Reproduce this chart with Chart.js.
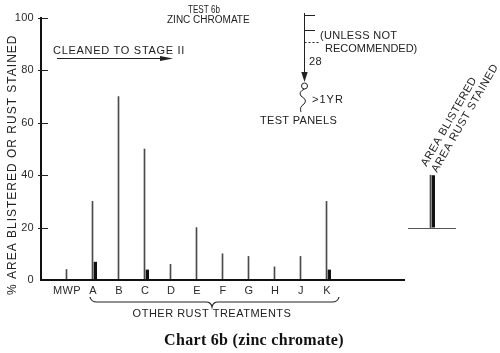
<!DOCTYPE html>
<html><head><meta charset="utf-8">
<script src="https://cdn.jsdelivr.net/npm/chart.js@4/dist/chart.umd.min.js"></script>
<style>html,body{margin:0;padding:0;background:#fff}#wrap{width:500px;height:353px;position:relative}canvas{display:block}</style>
</head><body><div id="wrap"><canvas id="c" width="500" height="353"></canvas></div>
<script>
// ---- data ----
const categories = ['MWP', 'A', 'B', 'C', 'D', 'E', 'F', 'G', 'H', 'J', 'K'];
const areaBlistered = [4, 30, 70, 50, 6, 20, 10, 9, 5, 9, 30];
const areaRustStained = [null, 7, null, 4, null, null, null, null, null, null, 4];
const yTicks = [0, 20, 40, 60, 80, 100];
const legendKeyRange = [20, 40];

// axis slots: one empty slot before, empty slots after (axis runs on, then the key)
const axisLabels = ['', ...categories, '', '', '', '', ''];
const axisEndIndex = categories.length + 3;   // where the drawn baseline stops
const legendIndex = categories.length + 4;    // slot holding the key bars

const thinData = axisLabels.map((l, i) => {
  const k = i - 1;
  if (k >= 0 && k < categories.length) return areaBlistered[k];
  if (i === legendIndex) return legendKeyRange;
  return null;
});
const thickData = axisLabels.map((l, i) => {
  const k = i - 1;
  if (k >= 0 && k < categories.length) return areaRustStained[k];
  if (i === legendIndex) return legendKeyRange;
  return null;
});

const INK = '#222';
const SANS = '"Liberation Sans", Arial, sans-serif';

function label(ctx, s, x, y, o = {}) {
  ctx.save();
  ctx.font = `${o.weight || 'normal'} ${o.size || 11}px ${SANS}`;
  ctx.fillStyle = o.color || INK;
  ctx.textAlign = o.align || 'left';
  ctx.textBaseline = o.base || 'alphabetic';
  ctx.letterSpacing = (o.ls != null ? o.ls : 0.3) + 'px';
  ctx.translate(x, y);
  if (o.rot) ctx.rotate(o.rot);
  if (o.maxW) ctx.fillText(s, 0, 0, o.maxW); else ctx.fillText(s, 0, 0);
  ctx.restore();
}
function seg(ctx, x1, y1, x2, y2) {
  ctx.beginPath(); ctx.moveTo(x1, y1); ctx.lineTo(x2, y2); ctx.stroke();
}
function tri(ctx, pts) {
  ctx.beginPath(); ctx.moveTo(pts[0][0], pts[0][1]);
  for (let i = 1; i < pts.length; i++) ctx.lineTo(pts[i][0], pts[i][1]);
  ctx.closePath(); ctx.fill();
}

const decor = {
  id: 'decor',
  beforeDraw(chart) { chart.ctx.letterSpacing = '0.3px'; },
  afterDraw(chart) {
    const ctx = chart.ctx;
    const xs = chart.scales.x, ys = chart.scales.y;
    ctx.save();
    ctx.strokeStyle = '#111'; ctx.fillStyle = '#111';

    // baseline of the main axis (stops before the key)
    const y0 = ys.getPixelForValue(0);
    ctx.lineWidth = 2;
    seg(ctx, xs.getPixelForValue(0) - 1, y0, xs.getPixelForValue(axisEndIndex), y0);

    // y tick marks crossing into the plot
    ctx.lineWidth = 1; ctx.strokeStyle = '#222';
    yTicks.forEach(v => {
      if (v === 0) return;
      const ty = Math.round(ys.getPixelForValue(v)) + 0.5;
      seg(ctx, xs.left - 3, ty, xs.left + 7, ty);
    });

    // key baseline
    const lx = xs.getPixelForValue(legendIndex) + 2;
    const ly = Math.round(ys.getPixelForValue(legendKeyRange[0])) + 0.5;
    ctx.lineWidth = 1; ctx.strokeStyle = '#555';
    seg(ctx, lx - 25, ly, lx + 23, ly);

    // y axis title
    label(ctx, '% AREA BLISTERED OR RUST STAINED', 15.5, 295, { size: 12, rot: -Math.PI / 2, ls: 1 });

    // cleaned to stage II + arrow
    label(ctx, 'CLEANED TO STAGE II', 53, 53.5, { size: 11, ls: 0.7 });
    ctx.strokeStyle = '#222'; ctx.fillStyle = '#222'; ctx.lineWidth = 1;
    seg(ctx, 57, 58.5, 163, 58.5);
    tri(ctx, [[173, 58.5], [160, 56], [160, 61]]);

    // test header
    label(ctx, 'TEST 6b', 188, 13, { size: 10, ls: 0, maxW: 32 });
    label(ctx, 'ZINC CHROMATE', 167, 23, { size: 10, ls: 0 });

    // process diagram
    const px = 304.5;
    seg(ctx, px, 13, px, 74);
    tri(ctx, [[px, 82], [px - 3.2, 72], [px + 3.2, 72]]);
    seg(ctx, px, 15.5, 315, 15.5);
    seg(ctx, px, 30.5, 315, 30.5);
    ctx.setLineDash([2, 2]);
    seg(ctx, px, 42.5, 319, 42.5);
    ctx.setLineDash([]);
    ctx.beginPath(); ctx.arc(px, 86, 3, 0, Math.PI * 2); ctx.stroke();
    ctx.beginPath();
    ctx.moveTo(px, 89);
    ctx.quadraticCurveTo(298, 92, 301, 96);
    ctx.quadraticCurveTo(308, 100, 304, 104);
    ctx.quadraticCurveTo(299, 107, 301, 112);
    ctx.stroke();
    label(ctx, '(UNLESS NOT', 320, 39, { size: 11, ls: 0.3 });
    label(ctx, 'RECOMMENDED)', 325, 51.5, { size: 11, ls: 0 });
    label(ctx, '28', 309, 65, { size: 11 });
    label(ctx, '>1YR', 312, 103, { size: 11, ls: 1 });
    label(ctx, 'TEST PANELS', 260, 124, { size: 11, ls: 0.3 });

    // brace under the other treatments
    const bl = xs.getPixelForValue(2) - 3, br = xs.getPixelForValue(categories.length) + 12;
    const bm = (xs.getPixelForValue(2) + xs.getPixelForValue(categories.length)) / 2 + 2;
    ctx.lineWidth = 1.2;
    ctx.beginPath();
    ctx.moveTo(bl, 297);
    ctx.quadraticCurveTo(bl + 1, 302, bl + 7, 302);
    ctx.lineTo(bm - 6, 302);
    ctx.quadraticCurveTo(bm - 1, 302, bm, 307);
    ctx.quadraticCurveTo(bm + 1, 302, bm + 6, 302);
    ctx.lineTo(br - 7, 302);
    ctx.quadraticCurveTo(br - 1, 302, br, 297);
    ctx.stroke();
    label(ctx, 'OTHER RUST TREATMENTS', bm, 316.5, { size: 11, ls: 0.5, align: 'center' });

    // key texts
    label(ctx, 'AREA BLISTERED', 426.5, 167, { size: 11, rot: -Math.PI / 3, ls: 0.5 });
    label(ctx, 'AREA RUST STAINED', 437, 173, { size: 11, rot: -Math.PI / 3, ls: 0.6 });

    ctx.restore();
  }
};

new Chart(document.getElementById('c'), {
  type: 'bar',
  data: {
    labels: axisLabels,
    datasets: [
      { label: 'AREA BLISTERED', data: thinData, backgroundColor: '#4a4a4a', barThickness: 1, borderWidth: 0 },
      { label: 'AREA RUST STAINED', data: thickData, backgroundColor: '#111', barThickness: 4,
        borderWidth: { left: 1, right: 0, top: 0, bottom: 0 }, borderColor: 'rgba(0,0,0,0)', borderSkipped: false }
    ]
  },
  options: {
    responsive: false, animation: false, devicePixelRatio: 1,
    layout: { padding: { left: 8, right: 0, top: 18, bottom: 0 } },
    plugins: {
      legend: { display: false }, tooltip: { enabled: false },
      title: { display: true, position: 'bottom', text: 'Chart 6b (zinc chromate)', color: '#111',
        font: { family: '"Liberation Serif", "Times New Roman", serif', size: 16, weight: 'bold' },
        padding: { top: 0, bottom: 3 } }
    },
    scales: {
      x: {
        type: 'category', offset: false,
        grid: { display: false, drawTicks: false }, border: { display: false },
        ticks: { autoSkip: false, maxRotation: 0, minRotation: 0, padding: 4, color: '#2a2a2a',
          font: { family: SANS, size: 11 } },
        afterFit(s) { s.height = 50.8; }
      },
      y: {
        min: 0, max: 100,
        afterBuildTicks(s) { s.ticks = yTicks.map(v => ({ value: v })); },
        grid: { display: false, drawTicks: false },
        border: { display: true, width: 2, color: '#111' },
        ticks: { padding: 7, color: '#2a2a2a', font: { family: SANS, size: 11 } },
        afterFit(s) { s.width = 33; }
      },
      pad: {
        type: 'linear', position: 'right', display: true,
        grid: { display: false, drawTicks: false }, border: { display: false }, ticks: { display: false },
        afterFit(s) { s.width = 43; }
      }
    }
  },
  plugins: [decor]
});
</script>
</body></html>
